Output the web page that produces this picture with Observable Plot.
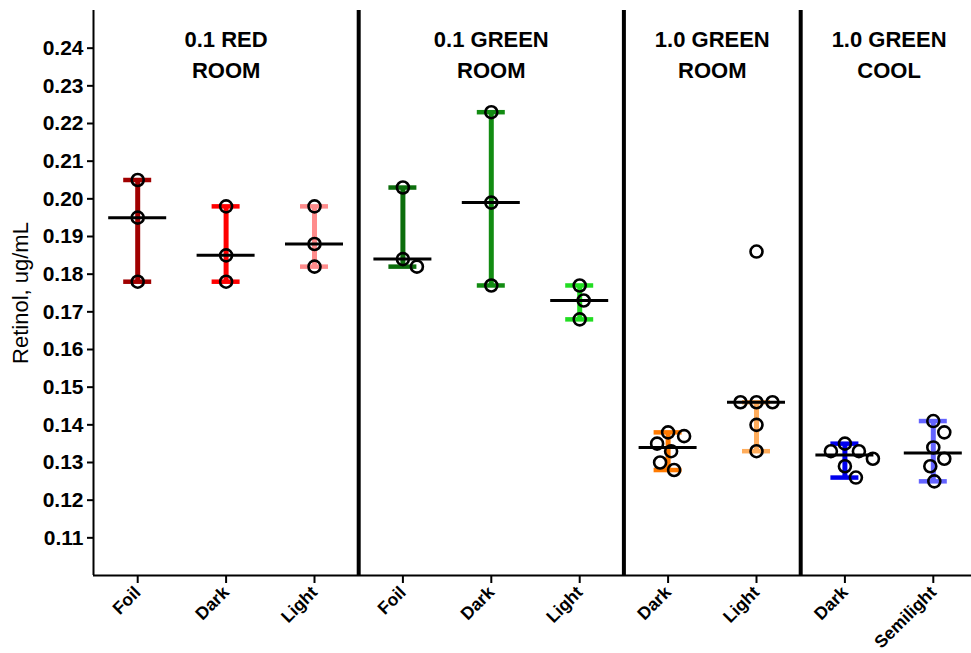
<!DOCTYPE html>
<html><head><meta charset="utf-8">
<script src="https://cdn.jsdelivr.net/npm/d3@7"></script>
<script src="https://cdn.jsdelivr.net/npm/@observablehq/plot@0.6"></script>
<style>
body{margin:0;background:#fff;}
#chart svg{max-width:none;}
#chart svg [aria-label^="y-axis"] text{font-size:21px;font-weight:bold;}
#chart svg [aria-label^="x-axis"] text{font-size:17.5px;font-weight:bold;}
#chart svg [aria-label^="x-axis"] line, #chart svg [aria-label^="x-axis"] path,
#chart svg [aria-label^="y-axis"] line, #chart svg [aria-label^="y-axis"] path{stroke-width:2px;stroke:#000;}
</style></head><body><div id="chart"></div><script>
// ---------- data ----------
const categories = ["Foil","Dark","Light","Foil","Dark","Light","Dark","Light","Dark","Semilight"];
const groupTitles = ["0.1 RED\nROOM","0.1 GREEN\nROOM","1.0 GREEN\nROOM","1.0 GREEN\nCOOL"];
const groupSizes = [3,3,2,2];
const yTicks = [0.11,0.12,0.13,0.14,0.15,0.16,0.17,0.18,0.19,0.20,0.21,0.22,0.23,0.24];
const values = [
  [0.205,0.195,0.178],
  [0.198,0.185,0.178],
  [0.198,0.188,0.182],
  [0.203,0.184,0.182],
  [0.223,0.199,0.177],
  [0.177,0.173,0.168],
  [0.138,0.137,0.135,0.133,0.130,0.128],
  [0.186,0.146,0.146,0.146,0.140,0.133],
  [0.135,0.133,0.133,0.131,0.129,0.126],
  [0.141,0.138,0.134,0.131,0.129,0.125]
];
const medians = [0.195,0.185,0.188,0.184,0.199,0.173,0.134,0.146,0.132,0.1325];
const barLow  = [0.178,0.178,0.182,0.182,0.177,0.168,0.128,0.133,0.126,0.125];
const barHigh = [0.205,0.198,0.198,0.203,0.223,0.177,0.138,0.146,0.135,0.141];

// ---------- layout / style ----------
const W = 971, H = 653, MT = 10, MB = 78, ML = 93;
const XR = [93, 977];
const Y_DOMAIN = [0.10, 0.25];
const PALETTE = ["#a00000","#ff0000","#ff8c8c","#0c6e0c","#128c12","#22dd22","#ff7a00","#ffad5c","#0000ee","#6464ff"];
const bandPx = (XR[1]-XR[0]) / categories.length;
const yPx = (H - MB - MT) / (Y_DOMAIN[1]-Y_DOMAIN[0]);
const MIN_D = 15.5;            // px between dot centres
const CAP = 14 / bandPx;       // half cap width in x units
const MED = 29 / bandPx;       // half median width in x units

// simple beeswarm placement
const points = [];
values.forEach((vals, i) => {
  const placed = [];
  vals.forEach(v => {
    const py = v * yPx;
    let best = 0;
    for (let s = 0; s < 300; s++) {
      const cands = s === 0 ? [0] : [s, -s];
      const ok = cands.find(c => placed.every(p => Math.hypot(p.dx - c, p.py - py) >= MIN_D));
      if (ok !== undefined) { best = ok; break; }
    }
    placed.push({dx: best, py});
    points.push({i, value: v, x: i + best / bandPx});
  });
});

const bars = categories.map((c, i) => ({i, lo: barLow[i], hi: barHigh[i], med: medians[i]}));

let start = 0;
const groups = groupTitles.map((t, g) => {
  const s = start; start += groupSizes[g];
  return {title: t, center: s + (groupSizes[g]-1)/2, end: s + groupSizes[g] - 0.5};
});
const boundaries = groups.slice(0, -1).map(g => g.end);

const chart = Plot.plot({
  width: W, height: H, marginTop: MT, marginBottom: MB, marginLeft: ML, marginRight: 0,
  style: {fontFamily: "'Liberation Sans', Arial, sans-serif", fontSize: "20px", fontWeight: "bold", background: "#fff", color: "#000"},
  x: {domain: [-0.5, categories.length - 0.5], range: XR, ticks: d3.range(categories.length),
      tickFormat: i => categories[i], tickRotate: -45, tickSize: 8, tickPadding: 6, label: null},
  y: {domain: Y_DOMAIN, ticks: yTicks, tickFormat: d3.format(".2f"), tickSize: 6, tickPadding: 4, label: null},
  color: {type: "ordinal", domain: d3.range(categories.length), range: PALETTE},
  marks: [
    Plot.ruleX(bars, {x: "i", y1: "lo", y2: "hi", stroke: "i", strokeWidth: 5}),
    Plot.ruleY(bars, {y: "lo", x1: d => d.i - CAP, x2: d => d.i + CAP, stroke: "i", strokeWidth: 4.5}),
    Plot.ruleY(bars, {y: "hi", x1: d => d.i - CAP, x2: d => d.i + CAP, stroke: "i", strokeWidth: 4.5}),
    Plot.ruleY(bars, {y: "med", x1: d => d.i - MED, x2: d => d.i + MED, stroke: "#000", strokeWidth: 3}),
    Plot.dot(points, {x: "x", y: "value", r: 6, stroke: "#000", strokeWidth: 2.6, fill: "none"}),
    Plot.ruleX(boundaries, {x: d => d, stroke: "#000", strokeWidth: 4}),
    Plot.ruleX([-0.5], {x: d => d, stroke: "#000", strokeWidth: 2}),
    Plot.ruleY([Y_DOMAIN[0]], {y: d => d, stroke: "#000", strokeWidth: 2}),
    Plot.text(groups, {x: "center", text: "title", frameAnchor: "top", lineAnchor: "top", dy: 15,
      fontSize: 22, lineHeight: 1.4, fontWeight: "bold",
      fontFamily: "'Liberation Sans', Arial, sans-serif"}),
    Plot.text(["Retinol, ug/mL"], {text: d => d, frameAnchor: "left", textAnchor: "middle", rotate: -90, dx: -73,
      fontWeight: "normal", fontSize: 22})
  ]
});
document.getElementById("chart").appendChild(chart);
</script></body></html>
